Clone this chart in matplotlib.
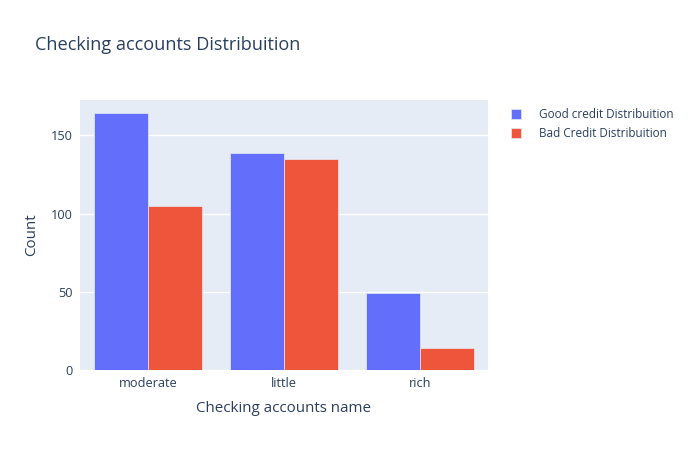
import matplotlib
matplotlib.use("Agg")
import matplotlib.pyplot as plt
import numpy as np

categories = ["moderate", "little", "rich"]
good_values = [164, 139, 49]
bad_values = [105, 135, 14]
series_names = ["Good credit Distribuition", "Bad Credit Distribuition"]
yticks = [0, 50, 100, 150]

TEXT = "#2a3f5f"
plt.rcParams['font.family'] = ['Open Sans', 'DejaVu Sans']

fig = plt.figure(figsize=(7, 4.5), dpi=100)
ax = fig.add_axes([80/700, 80/450, 408/700, 270/450])
ax.set_facecolor("#E5ECF6")

x = np.arange(len(categories))
w = 0.4
ax.bar(x - w/2, good_values, width=w, color="#636efa", edgecolor="#E5ECF6", linewidth=0.5, label=series_names[0], zorder=3)
ax.bar(x + w/2, bad_values, width=w, color="#EF553B", edgecolor="#E5ECF6", linewidth=0.5, label=series_names[1], zorder=3)

ax.set_xlim(-0.5, 2.5)
ax.set_ylim(0, 172.6)
ax.set_xticks(x)
ax.set_xticklabels(categories)
ax.set_yticks(yticks)
ax.grid(axis='y', color='white', linewidth=1, zorder=0)
for s in ax.spines.values():
    s.set_visible(False)
ax.tick_params(axis='both', length=0, labelsize=9.2, labelcolor=TEXT, pad=5)
ax.set_xlabel("Checking accounts name", fontsize=10.9, color=TEXT, labelpad=8)
ax.set_ylabel("Count", fontsize=10.9, color=TEXT, labelpad=9)

fig.text(35/700, 1 - 45/450, "Checking accounts Distribuition", fontsize=13.1, color=TEXT, va='center', ha='left')

leg = ax.legend(loc='upper left', frameon=False,
                fontsize=8.5, labelcolor=TEXT, handlelength=0.9, handleheight=0.9, handletextpad=1.5,
                borderaxespad=0, labelspacing=0.55)
leg.set_bbox_to_anchor((506/700, 1 - 103/450), transform=fig.transFigure)

fig.savefig("out.png", dpi=100)
